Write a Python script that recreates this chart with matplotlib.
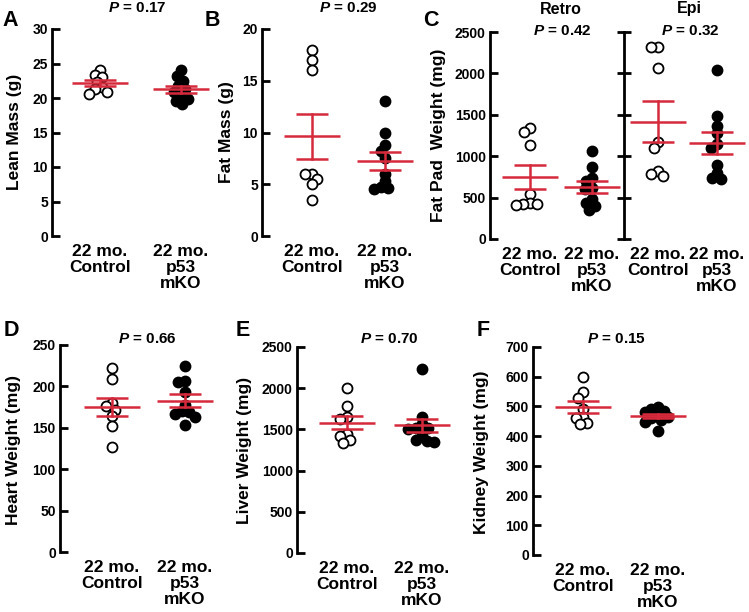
import numpy as np
import matplotlib
matplotlib.use("Agg")
import matplotlib.pyplot as plt

plt.rcParams['font.family'] = ['Liberation Sans', 'DejaVu Sans']
plt.rcParams['font.weight'] = 'bold'
plt.rcParams['mathtext.fontset'] = 'custom'
plt.rcParams['mathtext.bfit'] = 'Liberation Sans:italic:bold'
plt.rcParams['mathtext.rm'] = 'Liberation Sans:bold'

# ---------------- data ----------------
groups = ["22 mo.\nControl", "22 mo.\np53\nmKO"]

lean_ctrl = [24.0, 23.3, 23.0, 22.3, 21.6, 21.3, 20.8, 20.6]
lean_ko = [24.1, 23.2, 22.5, 21.7, 21.3, 20.8, 20.3, 19.9, 19.6, 19.2]

fat_ctrl = [18.0, 17.0, 16.0, 6.0, 6.0, 5.5, 5.0, 3.5]
fat_ko = [13.0, 10.0, 8.8, 8.2, 7.5, 6.0, 5.3, 4.7, 4.6, 4.5]

retro_ctrl = [1340, 1290, 1140, 540, 430, 420, 420, 410]
retro_ko = [1060, 870, 740, 700, 620, 600, 480, 440, 400, 350]

epi_ctrl = [2320, 2320, 2070, 1170, 1100, 820, 790, 760]
epi_ko = [2040, 1480, 1368, 1280, 1150, 1100, 892, 800, 740, 728]

heart_ctrl = [222, 209, 180, 176, 172, 164, 152, 127]
heart_ko = [225, 206, 205, 193, 178, 170, 169, 167, 163, 153]

liver_ctrl = [2000, 1780, 1650, 1630, 1450, 1420, 1370, 1340]
liver_ko = [2230, 1650, 1560, 1520, 1520, 1510, 1420, 1370, 1360, 1350]

kidney_ctrl = [600, 548, 530, 490, 465, 460, 445, 440]
kidney_ko = [498, 492, 486, 480, 474, 466, 460, 455, 448, 418]

p_values = {"A": "0.17", "B": "0.29", "Retro": "0.42", "Epi": "0.32",
            "D": "0.66", "E": "0.70", "F": "0.15"}

# ---------------- figure / styling ----------------
W, H = 749, 612
fig = plt.figure(figsize=(W / 100, H / 100), dpi=100)
RED = '#d62a3c'
MARKER_PX = 10.0


def px_axes(spine, ctrl, ko, top, bottom, right=None):
    """axes placed in pixel coords; x=1 lands on ctrl, x=2 on ko"""
    s = ko - ctrl
    lo = 1 - (ctrl - spine) / s
    if right is None:
        right = ko + 0.6 * s
    hi = lo + (right - spine) / s
    ax = fig.add_axes([spine / W, 1 - bottom / H, (right - spine) / W, (bottom - top) / H])
    ax.set_xlim(lo, hi)
    return ax, s


def style_axis(ax, ymax, step, show_labels=True):
    ax.set_ylim(0, ymax)
    ax.set_yticks(np.arange(0, ymax + 1e-9, step))
    for side in ['top', 'right', 'bottom']:
        ax.spines[side].set_visible(False)
    ax.spines['left'].set_linewidth(2.0)
    ax.spines['left'].set_bounds(0, ymax)
    ax.tick_params(axis='y', direction='in', length=5.5, width=2.0, pad=3, labelsize=10)
    ax.tick_params(axis='x', length=0, pad=6, labelsize=12.5)
    ax.set_xticks([1, 2])
    ax.set_xticklabels(groups, linespacing=1.05)
    if not show_labels:
        ax.tick_params(axis='y', labelleft=False)
    ax.patch.set_alpha(0)


def swarm(ax, values, x0, s):
    """simple beeswarm: offset points in pixel space so they overlap a bit"""
    vals = np.asarray(values, dtype=float)
    ypix = ax.transData.transform(np.column_stack([np.full(len(vals), x0), vals]))[:, 1]
    d = MARKER_PX * 0.72
    placed = []
    xs = np.zeros(len(vals))
    for i in np.argsort(-vals):
        y = ypix[i]
        cands = [0.0]
        for (px, py) in placed:
            dy = abs(py - y)
            if dy < d:
                dx = np.sqrt(d * d - dy * dy)
                cands += [px + dx, px - dx]
        cands = sorted(cands, key=lambda c: (abs(c), c))
        for c in cands:
            ok = all((c - px) ** 2 + (y - py) ** 2 >= d * d - 1e-6 for (px, py) in placed)
            if ok:
                xs[i] = c
                placed.append((c, y))
                break
    return x0 + xs / s


def draw_group(ax, s, values, x0, filled):
    xs = swarm(ax, values, x0, s)
    ax.scatter(xs, values, s=(MARKER_PX * 0.72) ** 2,
               facecolor='black' if filled else 'white',
               edgecolor='black', linewidth=1.3, zorder=3, clip_on=False)
    v = np.asarray(values, dtype=float)
    m = v.mean()
    se = v.std(ddof=1) / np.sqrt(len(v))
    hw, cw = 28 / s, 16 / s
    ax.plot([x0 - hw, x0 + hw], [m, m], color=RED, lw=1.8, zorder=4, solid_capstyle='butt')
    ax.plot([x0 - cw, x0 + cw], [m + se, m + se], color=RED, lw=1.8, zorder=4, solid_capstyle='butt')
    ax.plot([x0 - cw, x0 + cw], [m - se, m - se], color=RED, lw=1.8, zorder=4, solid_capstyle='butt')
    ax.plot([x0, x0], [m - se, m + se], color=RED, lw=1.8, zorder=4)


def ptext(xp, yp, p):
    fig.text(xp / W, 1 - yp / H, r'$\mathbfit{P}$ = ' + p, ha='center', va='center',
             fontsize=11, fontweight='bold')


def letter(xp, yp, t):
    fig.text(xp / W, 1 - yp / H, t, ha='left', va='center', fontsize=15.5, fontweight='bold')


def ylab(xp, yp, t):
    fig.text(xp / W, 1 - yp / H, t, ha='center', va='center', rotation=90,
             fontsize=12.5, fontweight='bold')


# ---- A: lean mass
ax, s = px_axes(52, 100, 181, 29, 236, right=225)
style_axis(ax, 30, 5)
draw_group(ax, s, lean_ctrl, 1, False)
draw_group(ax, s, lean_ko, 2, True)
letter(2, 20, "A"); ptext(137, 8, p_values["A"]); ylab(15, 132, "Lean Mass (g)")

# ---- B: fat mass
ax, s = px_axes(262, 312, 385, 29, 236, right=425)
style_axis(ax, 20, 5)
draw_group(ax, s, fat_ctrl, 1, False)
draw_group(ax, s, fat_ko, 2, True)
letter(205, 20, "B"); ptext(348, 8, p_values["B"]); ylab(226, 132, "Fat Mass (g)")

# ---- C: fat pads (retro + epi share scale)
ax, s = px_axes(490, 530, 592, 32, 239, right=624)
style_axis(ax, 2500, 500)
draw_group(ax, s, retro_ctrl, 1, False)
draw_group(ax, s, retro_ko, 2, True)

ax2, s2 = px_axes(624, 658, 717, 32, 239, right=748)
style_axis(ax2, 2500, 500, show_labels=False)
ax2.tick_params(axis='y', direction='inout', length=9.5)
draw_group(ax2, s2, epi_ctrl, 1, False)
draw_group(ax2, s2, epi_ko, 2, True)

letter(423, 20, "C"); ylab(439, 135, "Fat Pad  Weight (mg)")
fig.text(561 / W, 1 - 9 / H, "Retro", ha='center', va='center', fontsize=11.5, fontweight='bold')
fig.text(689 / W, 1 - 9 / H, "Epi", ha='center', va='center', fontsize=11.5, fontweight='bold')
ptext(562, 31, p_values["Retro"]); ptext(690, 31, p_values["Epi"])

# ---- D: heart
ax, s = px_axes(60, 112, 185, 345, 552, right=230)
style_axis(ax, 250, 50)
draw_group(ax, s, heart_ctrl, 1, False)
draw_group(ax, s, heart_ko, 2, True)
letter(4, 330, "D"); ptext(147, 339, p_values["D"]); ylab(14, 450, "Heart Weight (mg)")

# ---- E: liver
ax, s = px_axes(297, 347, 422, 347, 553, right=465)
style_axis(ax, 2500, 500)
draw_group(ax, s, liver_ctrl, 1, False)
draw_group(ax, s, liver_ko, 2, True)
letter(236, 330, "E"); ptext(389, 339, p_values["E"]); ylab(244, 450, "Liver Weight (mg)")

# ---- F: kidney
ax, s = px_axes(533, 583, 658, 347, 555, right=705)
style_axis(ax, 700, 100)
draw_group(ax, s, kidney_ctrl, 1, False)
draw_group(ax, s, kidney_ko, 2, True)
letter(477, 330, "F"); ptext(616, 339, p_values["F"]); ylab(482, 452, "Kidney Weight (mg)")

fig.savefig("out.png", dpi=100)
